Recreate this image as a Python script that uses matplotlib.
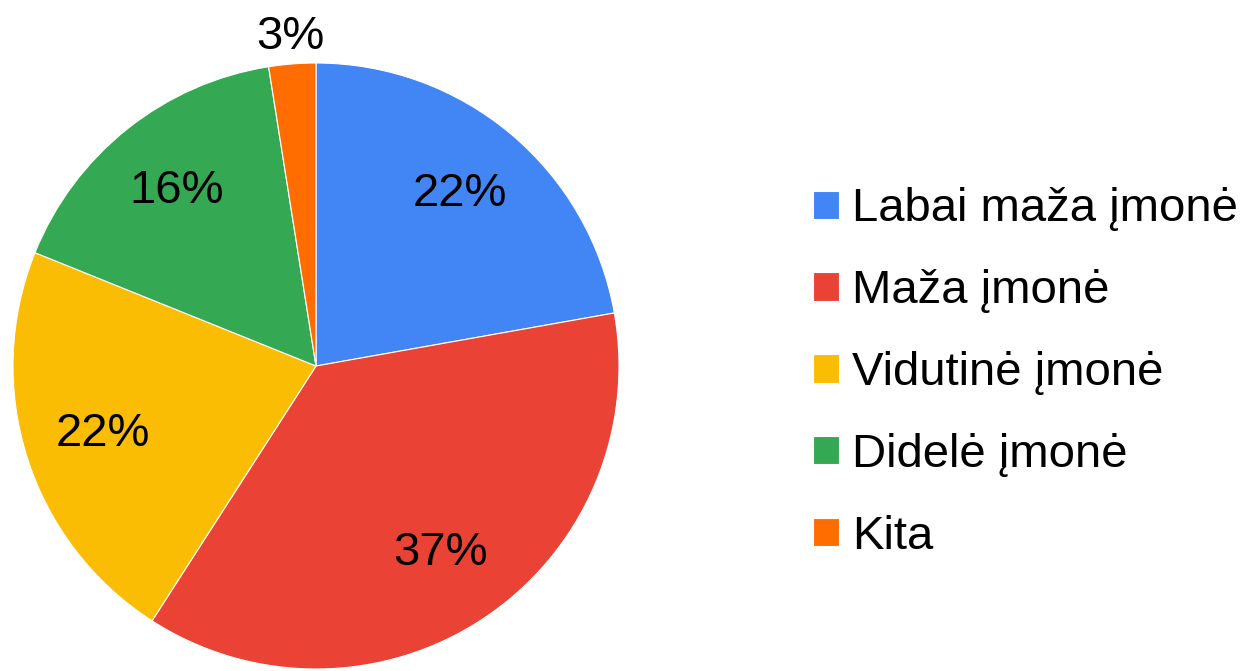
import matplotlib.pyplot as plt
import numpy as np

labels = ['Labai maža įmonė', 'Maža įmonė', 'Vidutinė įmonė', 'Didelė įmonė', 'Kita']
shares = [22.2, 36.9, 22.0, 16.4, 2.5]
colors = ['#4285F4', '#EA4335', '#FBBC04', '#34A853', '#FF6D01']

plt.rcParams['font.family'] = ['Liberation Sans', 'DejaVu Sans']

W, H = 1258, 671
fig = plt.figure(figsize=(W / 100, H / 100), dpi=100)

# pie centre (316, 366) px, radius 303 px, limits +-1.2
lim = 1.2
half = 303 * lim
cx, cy = 316, H - 366
ax = fig.add_axes([(cx - half) / W, (cy - half) / H, 2 * half / W, 2 * half / H])

def pct(p):
    return '%d%%' % int(p + 0.5 + 1e-6)

wedges, texts, autotexts = ax.pie(
    shares, colors=colors, startangle=90, counterclock=False,
    autopct=pct, pctdistance=0.74,
    wedgeprops=dict(edgecolor='white', linewidth=0.8),
    textprops=dict(fontsize=34, color='black'))

# small slice label goes outside
w = wedges[-1]
mid = np.deg2rad((w.theta1 + w.theta2) / 2)
autotexts[-1].set_position((1.09 * np.cos(mid), 1.09 * np.sin(mid)))

ax.set_xlim(-lim, lim)
ax.set_ylim(-lim, lim)
ax.set_aspect('equal')
ax.axis('off')

fig.legend(wedges, labels, loc='center left',
           bbox_to_anchor=(813 / W, (H - 373) / H),
           frameon=False, fontsize=34, borderpad=0, borderaxespad=0,
           handlelength=0.55, handleheight=0.55, handletextpad=0.27,
           labelspacing=0.8)

fig.savefig('out.png', dpi=100)
